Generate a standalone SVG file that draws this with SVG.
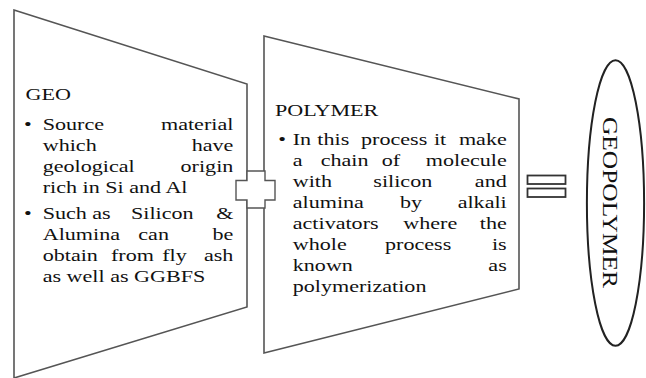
<svg xmlns="http://www.w3.org/2000/svg" width="646" height="378" viewBox="0 0 646 378">
<style>
.box{fill:#fff;stroke:#555;stroke-width:1.6}
.e{text-anchor:end}
</style>
<rect width="646" height="378" fill="#fff"/>
<g id="geo">
<polygon class="box" points="14,10 247,84 247,307 14,378"/>
<g transform="scale(1.3,1)" font-family="Liberation Serif, Times New Roman, serif" font-size="17" fill="#111">
<text x="19.6" y="100">GEO</text>
<text x="18.5" y="130">•</text>
<text x="32.85" y="130">Source</text><text class="e" x="179.5" y="130">material</text>
<text x="32.85" y="151">which</text><text class="e" x="179.5" y="151">have</text>
<text x="32.85" y="172">geological</text><text class="e" x="179.5" y="172">origin</text>
<text x="32.85" y="193">rich in Si and Al</text>
<text x="18.5" y="219">•</text>
<text x="32.85" y="219">Such</text><text x="71" y="219">as</text><text x="100.8" y="219">Silicon</text><text class="e" x="179.5" y="219">&amp;</text>
<text x="32.85" y="240">Alumina</text><text x="106.4" y="240">can</text><text class="e" x="179.5" y="240">be</text>
<text x="32.85" y="261">obtain</text><text x="85.4" y="261">from</text><text x="124.8" y="261">fly</text><text class="e" x="179.5" y="261">ash</text>
<text x="32.85" y="282">as well as GGBFS</text>
</g>
</g>
<g id="polymer">
<polygon class="box" points="264,36 519,99 519,289 264,353"/>
<g transform="scale(1.3,1)" font-family="Liberation Serif, Times New Roman, serif" font-size="17" fill="#111">
<text x="211.5" y="116">POLYMER</text>
<text x="214" y="145">•</text>
<text x="225.2" y="145">In</text><text x="244.1" y="145">this</text><text x="277.7" y="145">process</text><text x="333.8" y="145">it</text><text class="e" x="389.8" y="145">make</text>
<text x="225.2" y="166">a</text><text x="246.7" y="166">chain</text><text x="293.6" y="166">of</text><text class="e" x="389.8" y="166">molecule</text>
<text x="225.2" y="187">with</text><text x="287.2" y="187">silicon</text><text class="e" x="389.8" y="187">and</text>
<text x="225.2" y="208">alumina</text><text x="307.7" y="208">by</text><text class="e" x="389.8" y="208">alkali</text>
<text x="225.2" y="229">activators</text><text x="310.2" y="229">where</text><text class="e" x="389.8" y="229">the</text>
<text x="225.2" y="250">whole</text><text x="296.2" y="250">process</text><text class="e" x="389.8" y="250">is</text>
<text x="225.2" y="271">known</text><text class="e" x="389.8" y="271">as</text>
<text x="225.2" y="292">polymerization</text>
</g>
</g>
<g id="connectors">
<polygon id="plus" points="247,171 265,171 265,180.5 275,180.5 275,200 265,200 265,208 247,208 247,200 236,200 236,180.5 247,180.5" fill="#fff" stroke="#555" stroke-width="1.4"/>
<g id="equals" fill="#fff" stroke="#333" stroke-width="1.8">
<rect x="527.5" y="175.5" width="38" height="8.5"/>
<rect x="527.5" y="188.5" width="38" height="8.5"/>
</g>
</g>
<g id="geopolymer">
<ellipse cx="615.5" cy="203" rx="28.6" ry="142.8" fill="#fff" stroke="#222" stroke-width="2"/>
<text transform="translate(603,202.5) rotate(90)" x="0" y="0" text-anchor="middle" textLength="171" lengthAdjust="spacingAndGlyphs" font-family="Liberation Serif, Times New Roman, serif" font-size="20" fill="#111">GEOPOLYMER</text>
</g>
</svg>
